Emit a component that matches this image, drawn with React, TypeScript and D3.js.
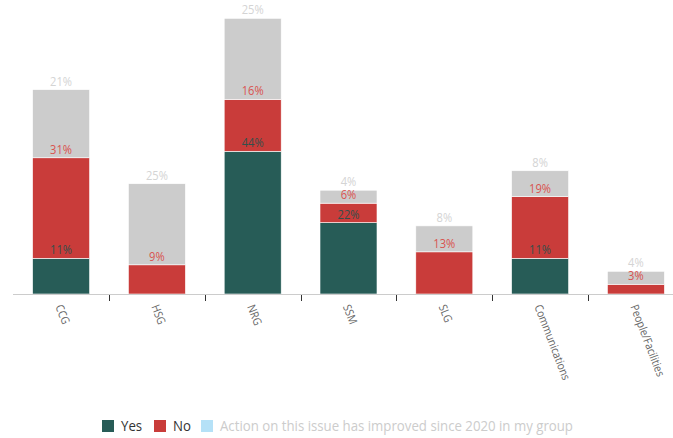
import React from "react";
import * as d3 from "d3";

const categories = ["CCG", "HSG", "NRG", "SSM", "SLG", "Communications", "People/Facilities"];
const yesValues = [11, 0, 44, 22, 0, 11, 0];
const noValues = [31, 9, 16, 6, 13, 19, 3];
const improvedValues = [21, 25, 25, 4, 8, 8, 4];
const seriesNames = ["Yes", "No", "Action on this issue has improved since 2020 in my group"];

const W = 673;
const H = 438;
const FONT = "'Open Sans', sans-serif";

const segColors = ["#275c57", "#c93c3a", "#cccccc"];
const labelColors = ["#344f4b", "#d9534f", "#d4d4d4"];
const legendSwatch = ["#275c57", "#c93c3a", "#b5e1f7"];
const legendText = ["#333333", "#333333", "#cccccc"];

export default function App() {
  const x = d3
    .scaleBand<string>()
    .domain(categories)
    .range([13.2, 13.2 + 95.8 * categories.length])
    .paddingInner(0.405)
    .paddingOuter(0.2025);
  const y = d3.scaleLinear().domain([0, 85]).range([294, 18.3]);
  const step = x.step();
  const bw = x.bandwidth();

  const rows = categories.map((c, i) => ({
    cat: c,
    v: [yesValues[i], noValues[i], improvedValues[i]],
  }));

  const legendX = [102, 154, 201];

  return (
    <svg width={W} height={H} style={{ position: "absolute", left: 0, top: 0, fontFamily: FONT }}>
      <rect width={W} height={H} fill="#fff" />
      {rows.map((r) => {
        let acc = 0;
        const x0 = x(r.cat)!;
        return (
          <g key={r.cat}>
            {r.v.map((v, s) => {
              if (!v) return null;
              const y0 = y(acc);
              acc += v;
              const y1 = y(acc);
              return (
                <rect key={s} x={x0} y={y1} width={bw} height={y0 - y1} fill={segColors[s]} stroke="#ffffff" strokeWidth={0.6} />
              );
            })}
          </g>
        );
      })}
      {rows.map((r) => {
        let acc = 0;
        const cx = x(r.cat)! + bw / 2;
        return (
          <g key={r.cat + "l"}>
            {r.v.map((v, s) => {
              if (!v) return null;
              acc += v;
              return (
                <text
                  key={s}
                  transform={`translate(${cx},${y(acc) - 4}) scale(0.93,1)`}
                  textAnchor="middle"
                  fontSize={12}
                  fill={labelColors[s]}
                >
                  {v}%
                </text>
              );
            })}
          </g>
        );
      })}
      <line x1={13} x2={W} y1={294.5} y2={294.5} stroke="#cccccc" strokeWidth={1} />
      {categories.slice(1).map((c) => {
        const tx = Math.round(x(c)! - (step - bw) / 2) + 0.5;
        return <line key={c} x1={tx} x2={tx} y1={295} y2={301} stroke="#333" strokeWidth={1} />;
      })}
      {categories.map((c) => {
        const cx = x(c)! + bw / 2;
        return (
          <text
            key={c}
            transform={`translate(${cx - 2},${305}) rotate(69) scale(0.88,1)`}
            textAnchor="start"
            dy="0.35em"
            fontSize={11.5}
            fill="#666666"
          >
            {c}
          </text>
        );
      })}
      {seriesNames.map((n, i) => (
        <g key={n}>
          <rect x={legendX[i]} y={420} width={12} height={12} fill={legendSwatch[i]} />
          <text transform={`translate(${legendX[i] + 19},431) scale(0.946,1)`} fontSize={14} fill={legendText[i]}>
            {n}
          </text>
        </g>
      ))}
    </svg>
  );
}
